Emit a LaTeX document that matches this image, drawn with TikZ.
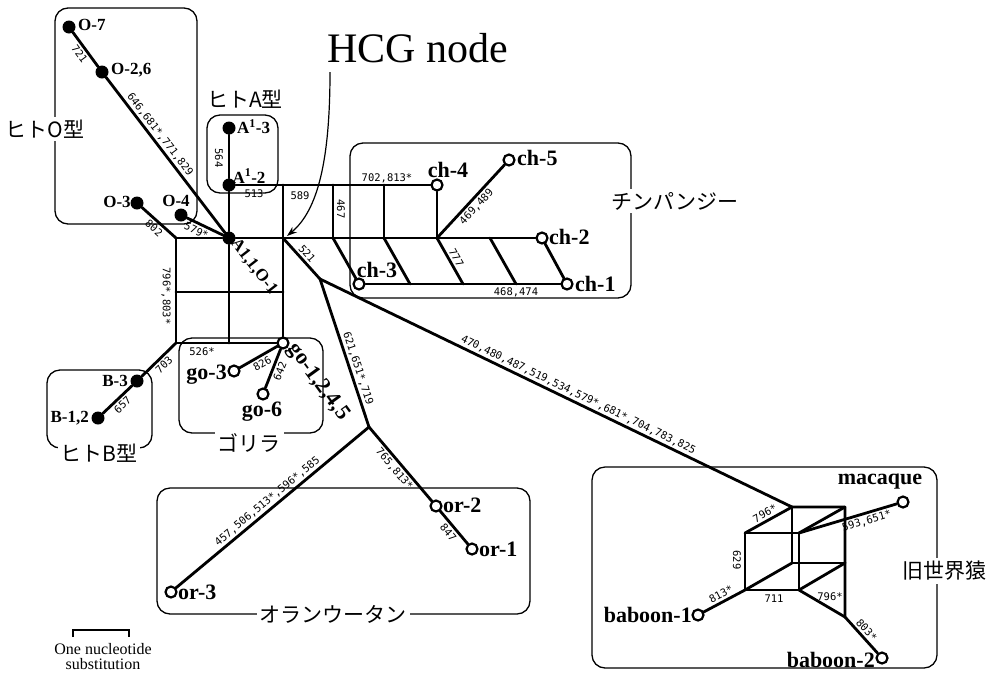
\documentclass[tikz,border=0pt]{standalone}
\usepackage{fontspec}
\setmainfont{Liberation Serif}
\newfontfamily\jpfont{Noto Sans CJK JP}
\newfontfamily\numfont{DejaVu Sans Mono}
\usetikzlibrary{arrows.meta}

\tikzset{
  hum/.style={circle, fill=black, inner sep=0pt, minimum size=13pt},
  ape/.style={circle, draw=black, fill=white, line width=2.2pt, inner sep=0pt, minimum size=11pt},
  br/.style={line width=2.8pt, line cap=round, line join=round},
  grp/.style={draw, line width=1.3pt, rounded corners=13pt},
  hname/.style={font=\fontsize{17}{17}\selectfont\bfseries, inner sep=1pt},
  aname/.style={font=\fontsize{22}{22}\selectfont\bfseries, inner sep=1pt},
  sub/.style={font=\numfont\fontsize{10.5}{10.5}\selectfont, inner sep=2pt},
  grptxt/.style={font=\jpfont\fontsize{21}{21}\selectfont, fill=white, inner sep=3pt},
}

\begin{document}
\begin{tikzpicture}[x=1pt, y=-1pt]
  \useasboundingbox (0,0) rectangle (992,673);

  % group boxes
  \draw[grp] (55,8) rectangle (197,224);
  \draw[grp] (207,115) rectangle (278,193);
  \draw[grp] (350,143) rectangle (631,298);
  \draw[grp] (47,370) rectangle (152,448);
  \draw[grp] (179,338) rectangle (323,433);
  \draw[grp] (157,488) rectangle (530,614);
  \draw[grp] (592,467) rectangle (937,668);

  % human O / A / B
  \node[hum] (O7) at (69,27) {};
  \node[hum] (O26) at (102,72) {};
  \node[hum] (O3) at (137,203) {};
  \node[hum] (O4) at (181,215) {};
  \node[hum] (A) at (229,238) {};
  \node[hum] (A13) at (229,128) {};
  \node[hum] (A12) at (229,185) {};
  \node[hum] (B3) at (137,381) {};
  \node[hum] (B12) at (98,418) {};

  % reticulation round the HCG node
  \coordinate (g1) at (176,238);
  \coordinate (g2) at (176,292);
  \coordinate (g3) at (176,343);
  \coordinate (g4) at (229,292);
  \coordinate (g5) at (229,343);
  \coordinate (h1) at (283,185);
  \coordinate (HCG) at (283,238);
  \coordinate (h2) at (283,292);

  % gorilla
  \node[ape] (GO) at (283,343) {};
  \node[ape] (go3) at (234,371) {};
  \node[ape] (go6) at (263,394) {};

  % chimpanzee
  \coordinate (t1) at (333,185);
  \coordinate (t2) at (384,185);
  \coordinate (m1) at (333,238);
  \coordinate (m2) at (384,238);
  \coordinate (m3) at (437,238);
  \coordinate (m4) at (490,238);
  \coordinate (b2) at (410,284);
  \coordinate (b3) at (463,284);
  \coordinate (b4) at (516,284);
  \node[ape] (ch4) at (437,185) {};
  \node[ape] (ch5) at (509,160) {};
  \node[ape] (ch2) at (542,238) {};
  \node[ape] (ch3) at (359,284) {};
  \node[ape] (ch1) at (567,284) {};

  % orangutan
  \coordinate (J1) at (320,279);
  \coordinate (J2) at (369,427);
  \node[ape] (or2) at (436,506) {};
  \node[ape] (or1) at (472,549) {};
  \node[ape] (or3) at (171,592) {};

  % old world monkeys
  \coordinate (c1) at (792,507);
  \coordinate (c2) at (845,507);
  \coordinate (c3) at (845,563);
  \coordinate (c4) at (792,563);
  \coordinate (f1) at (745,533);
  \coordinate (f2) at (799,533);
  \coordinate (f3) at (799,590);
  \coordinate (f4) at (745,590);
  \coordinate (e1) at (845,617);
  \node[ape] (mac) at (903,502) {};
  \node[ape] (bab1) at (698,615) {};
  \node[ape] (bab2) at (882,658) {};

  % branches, humans
  \draw[br] (O7) -- node[sub, sloped, below] {721} (O26)
    -- node[sub, sloped, above, pos=0.4] {646,681*,771,829} (A);
  \draw[br] (O3) -- node[sub, sloped, below] {802} (g1);
  \draw[br] (O4) -- node[sub, sloped, below, pos=0.35] {579*} (A);
  \draw[br] (A13) -- (A12);
  \draw[br] (B12) -- node[sub, sloped, below] {657} (B3)
    -- node[sub, sloped, below] {703} (g3);

  % grid
  \draw[br] (g1) -- (A) -- (HCG) -- (m1) -- (m2) -- (m3) -- (m4) -- (ch2);
  \draw[br] (A12) -- (h1) -- (t1) -- (t2) -- (ch4);
  \draw[br] (g2) -- (g4) -- (h2);
  \draw[br] (g3) -- (g5) -- (GO);
  \draw[br] (g1) -- (g2) -- (g3);
  \draw[br] (A12) -- (A) -- (g4) -- (g5);
  \draw[br] (h1) -- (HCG) -- (h2) -- (GO);

  % chimp ladder
  \draw[br] (t1) -- (m1);
  \draw[br] (t2) -- (m2);
  \draw[br] (ch4) -- (m3);
  \draw[br] (m1) -- (ch3);
  \draw[br] (m2) -- (b2);
  \draw[br] (m3) -- node[sub, sloped, above] {777} (b3);
  \draw[br] (m4) -- (b4);
  \draw[br] (ch2) -- (ch1);
  \draw[br] (ch3) -- (b2) -- (b3) -- (b4) -- (ch1);
  \draw[br] (m3) -- node[sub, sloped, below] {469,489} (ch5);

  % gorilla branches
  \draw[br] (go3) -- node[sub, sloped, below] {826} (GO);
  \draw[br] (go6) -- node[sub, sloped, below] {642} (GO);

  % HCG to orangutan and monkeys
  \draw[br] (HCG) -- node[sub, sloped, above] {521} (J1);
  \draw[br] (J1) -- node[sub, sloped, above, pos=0.62] {621,651*,719} (J2);
  \draw[br] (or3) -- node[sub, sloped, above] {457,506,513*,596*,585} (J2);
  \draw[br] (J2) -- node[sub, sloped, below] {765,813*} (or2)
    -- node[sub, sloped, below] {847} (or1);
  \draw[br] (J1) -- node[sub, sloped, above, pos=0.54]
    {470,480,487,519,534,579*,681*,704,783,825} (c1);

  % monkey cube
  \draw[br] (f1) -- node[sub, sloped, above] {796*} (c1) -- (c2) -- (c3) -- (e1);
  \draw[br] (c1) -- (c4) -- (c3);
  \draw[br] (f1) -- (f2) -- (f3) -- (f4) -- cycle;
  \draw[br] (f2) -- (c2);
  \draw[br] (f4) -- (c4);
  \draw[br] (f3) -- (c3);
  \draw[br] (f3) -- (e1);
  \draw[br] (f2) -- node[sub, sloped, below, pos=0.67] {593,651*} (mac);
  \draw[br] (bab1) -- node[sub, sloped, above] {813*} (f4);
  \draw[br] (e1) -- node[sub, sloped, above] {803*} (bab2);

  % loose branch labels
  \node[sub, rotate=-90] (l564) at (219,158) {564};
  \node[sub, rotate=-90] (l796) at (166,296) {796*,803*};
  \node[sub] (l513) at (254,194) {513};
  \node[sub] (l589) at (300,196) {589};
  \node[sub] (l702) at (387,178) {702,813*};
  \node[sub, rotate=-90] (l467) at (341,209) {467};
  \node[sub] (l526) at (202,352) {526*};
  \node[sub] (l468) at (516,292) {468,474};
  \node[sub, rotate=-90] (l629) at (737,560) {629};
  \node[sub] (l711) at (774,599) {711};
  \node[sub] (l796b) at (830,597) {796*};

  % haplotype names
  \node[hname, right] (lO7) at (77,25) {O-7};
  \node[hname, right] (lO26) at (110,70) {O-2,6};
  \node[hname] (lO3) at (117,202) {O-3};
  \node[hname] (lO4) at (176,201) {O-4};
  \node[hname, right] (lA13) at (236,127) {A\textsuperscript{1}-3};
  \node[hname] (lA12) at (249,176) {A\textsuperscript{1}-2};
  \node[hname, rotate=-52] (lA) at (254,267) {A1,1,O-1};
  \node[hname, left] (lB3) at (129,381) {B-3};
  \node[hname, left] (lB12) at (90,418) {B-1,2};
  \node[aname, left] (lgo3) at (228,375) {go-3};
  \node[aname] (lgo6) at (262,412) {go-6};
  \node[aname, rotate=-54] (lGO) at (318,382) {go-1,2,4,5};
  \node[aname] (lch4) at (448,170) {ch-4};
  \node[aname, right] (lch5) at (516,158) {ch-5};
  \node[aname, right] (lch2) at (548,237) {ch-2};
  \node[aname, right] (lch1) at (574,284) {ch-1};
  \node[aname] (lch3) at (377,270) {ch-3};
  \node[aname, right] (lor2) at (442,505) {or-2};
  \node[aname, right] (lor1) at (478,549) {or-1};
  \node[aname, right] (lor3) at (177,592) {or-3};
  \node[aname] (lmac) at (880,482) {macaque};
  \node[aname, left] (lbab1) at (693,615) {baboon-1};
  \node[aname, left] (lbab2) at (876,660) {baboon-2};

  % group names
  \node[grptxt] (tO) at (45,129) {ヒトO型};
  \node[grptxt] (tA) at (245,99) {ヒトA型};
  \node[grptxt] (tB) at (99,453) {ヒトB型};
  \node[grptxt] (tG) at (249,443) {ゴリラ};
  \node[grptxt] (tC) at (675,201) {チンパンジー};
  \node[grptxt] (tOr) at (333,614) {オランウータン};
  \node[grptxt] (tOW) at (944,571) {旧世界猿};

  % HCG node pointer
  \node[font=\fontsize{42}{42}\selectfont] (hcg) at (418,48) {HCG node};
  \coordinate (hcgs) at (330,72);
  \coordinate (hcgtip) at (287,236);
  \draw[line width=1.2pt, -{Stealth[length=10pt, width=7pt]}]
    (hcgs) .. controls (330,160) and (318,210) .. (hcgtip);

  % scale bar
  \draw[line width=1.6pt] (73,637) -- (73,630) -- (129,630) -- (129,637);
  \node[font=\fontsize{16}{15}\selectfont, align=center] (scl) at (103,657)
    {One nucleotide\\substitution};
\end{tikzpicture}
\end{document}
